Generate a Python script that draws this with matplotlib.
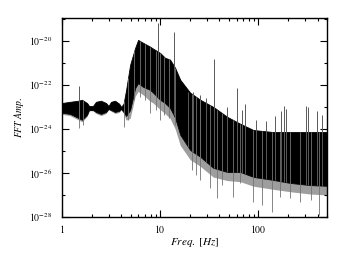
import numpy as np
import matplotlib.pyplot as plt
from matplotlib.ticker import FixedLocator, NullFormatter, LogLocator

plt.rcParams['mathtext.fontset'] = 'stix'
plt.rcParams['mathtext.default'] = 'it'

# envelope of the FFT amplitude band
freq = [1.0, 1.21, 1.46, 1.60, 1.80, 1.89, 2.07, 2.22, 2.50, 2.81, 2.98, 3.16,
        3.47, 3.82, 4.00, 4.24, 4.50, 4.94, 5.56, 5.96, 6.71, 7.91, 8.48, 10.0,
        11.2, 12.6, 14.2, 16.0, 20.2, 25.6, 34.7, 48.3, 65.5, 88.9, 142, 212,
        339, 500]
amp_hi = [1.5e-23, 1.7e-23, 1.9e-23, 2.1e-23, 1.5e-23, 1.1e-23, 1.1e-23, 1.7e-23,
          1.9e-23, 1.5e-23, 1.1e-23, 1.7e-23, 1.9e-23, 1.4e-23, 1.0e-23, 1.4e-23,
          5.9e-23, 8.1e-22, 4.8e-21, 1.1e-20, 8.1e-21, 5.4e-21, 4.4e-21, 2.8e-21,
          1.7e-21, 1.4e-21, 5.9e-22, 1.7e-22, 4.4e-23, 2.1e-23, 1.0e-23, 3.5e-24,
          1.7e-24, 8.9e-25, 7.2e-25, 7.2e-25, 7.2e-25, 7.2e-25]
amp_lo = [5.4e-24, 4.8e-24, 3.2e-24, 2.6e-24, 4.4e-24, 7.2e-24, 7.2e-24, 5.9e-24,
          4.8e-24, 5.9e-24, 8.1e-24, 7.2e-24, 5.9e-24, 6.6e-24, 8.1e-24, 5.9e-24,
          3.9e-24, 7.2e-24, 7.2e-23, 1.2e-22, 8.1e-23, 5.9e-23, 4.4e-23, 2.1e-23,
          1.5e-23, 8.9e-24, 3.2e-24, 5.4e-25, 1.1e-25, 5.4e-26, 1.7e-26, 1.1e-26,
          1.1e-26, 6.6e-27, 4.8e-27, 3.5e-27, 2.8e-27, 2.6e-27]
# grey fringe of thin lines under the band
fringe_lo = [4.6e-24, 4.0e-24, 2.6e-24, 2.1e-24, 3.6e-24, 6.6e-24, 6.6e-24, 5.0e-24,
             4.0e-24, 5.0e-24, 7.5e-24, 6.4e-24, 5.0e-24, 5.6e-24, 7.5e-24, 5.0e-24,
             2.5e-24, 3.0e-24, 3.0e-23, 5.0e-23, 3.5e-23, 1.8e-23, 1.5e-23, 7.5e-24,
             5.0e-24, 3.0e-24, 1.0e-24, 1.8e-25, 4.0e-26, 2.0e-26, 6.5e-27, 4.5e-27,
             4.0e-27, 2.5e-27, 1.8e-27, 1.4e-27, 1.1e-27, 1.0e-27]

# narrow lines sticking out above the band
spike_f = [1.50, 9.6, 13.7, 19.3, 21.7, 25.6, 29.5, 35.0, 48.3, 60.4, 68.5, 73.6,
           95.4, 120, 146, 171, 181, 193, 302, 317, 397, 447]
spike_a = [8.9e-23, 6.6e-20, 2.6e-20, 4.8e-23, 4.8e-23, 3.5e-23, 2.6e-23, 1.5e-21,
           1.0e-23, 7.1e-23, 7.2e-24, 1.4e-23, 2.6e-24, 2.4e-24, 3.9e-24, 6.2e-24,
           1.1e-23, 7.9e-24, 1.1e-23, 1.0e-23, 6.2e-24, 4.4e-24]

# dips reaching below the band
dip_f = [1.49, 1.64, 4.29, 4.71, 5.43, 6.25, 7.03, 7.91, 9.1, 10.0, 11.0, 12.3,
         14.2, 21.1, 23.3, 25.6, 32.4, 38.0, 42.9, 55.6, 65.5, 89, 109, 138, 167,
         212, 268, 339, 411]
dip_a = [1.1e-24, 1.5e-24, 1.2e-24, 2.6e-24, 2.1e-23, 2.8e-23, 2.1e-23, 5.4e-24,
         7.2e-24, 2.6e-24, 4.4e-24, 3.2e-24, 1.5e-24, 1.4e-26, 8.1e-27, 4.8e-27,
         2.1e-27, 7.2e-28, 2.8e-27, 8.1e-28, 3.5e-27, 5.0e-28, 3.5e-28, 1.7e-28,
         8.3e-28, 7.2e-28, 5.0e-28, 5.9e-28, 1.2e-28]

yticks = [1e-28, 1e-26, 1e-24, 1e-22, 1e-20]
yminor = [1e-27, 1e-25, 1e-23, 1e-21, 1e-19]
ylabels = ['$\\mathit{10^{-28}}$', '$\\mathit{10^{-26}}$', '$\\mathit{10^{-24}}$',
           '$\\mathit{10^{-22}}$', '$\\mathit{10^{-20}}$']


def log_interp(x, xs, ys):
    return 10 ** np.interp(np.log10(x), np.log10(xs), np.log10(ys))


fig = plt.figure(figsize=(3.54, 2.63), dpi=100)
ax = fig.add_axes([0.175, 0.175, 0.749, 0.757])

ax.fill_between(freq, fringe_lo, amp_lo, color='0.62', lw=0)
ax.fill_between(freq, amp_lo, amp_hi, color='black', lw=0.6)
ax.vlines(spike_f, log_interp(spike_f, freq, amp_lo), spike_a, color='0.35', lw=0.7)
ax.vlines(dip_f, dip_a, log_interp(dip_f, freq, amp_hi), color='0.45', lw=0.6)

ax.set_xscale('log')
ax.set_yscale('log')
ax.set_xlim(1, 500)
ax.set_ylim(1e-28, 1.1e-19)

ax.xaxis.set_major_locator(FixedLocator([1, 10, 100]))
ax.xaxis.set_minor_locator(LogLocator(subs=np.arange(2, 10)))
ax.xaxis.set_minor_formatter(NullFormatter())
ax.set_xticklabels(['$\\mathit{1}$', '$\\mathit{10}$', '$\\mathit{100}$'])
ax.yaxis.set_major_locator(FixedLocator(yticks))
ax.yaxis.set_minor_locator(FixedLocator(yminor))
ax.yaxis.set_minor_formatter(NullFormatter())
ax.set_yticklabels(ylabels)

ax.tick_params(which='both', direction='in', top=True, right=True, labelsize=7, width=0.8)
ax.tick_params(which='major', length=5)
ax.tick_params(axis='y', which='major', pad=7)
ax.tick_params(axis='x', which='major', pad=4)
ax.tick_params(which='minor', length=2.5)
for s in ax.spines.values():
    s.set_linewidth(1.0)

ax.set_xlabel('$Freq.\\ [Hz]$', fontsize=8, labelpad=1)
ax.set_ylabel('$FFT\\ Amp.$', fontsize=7, labelpad=2)

fig.savefig('out.png', dpi=100)
